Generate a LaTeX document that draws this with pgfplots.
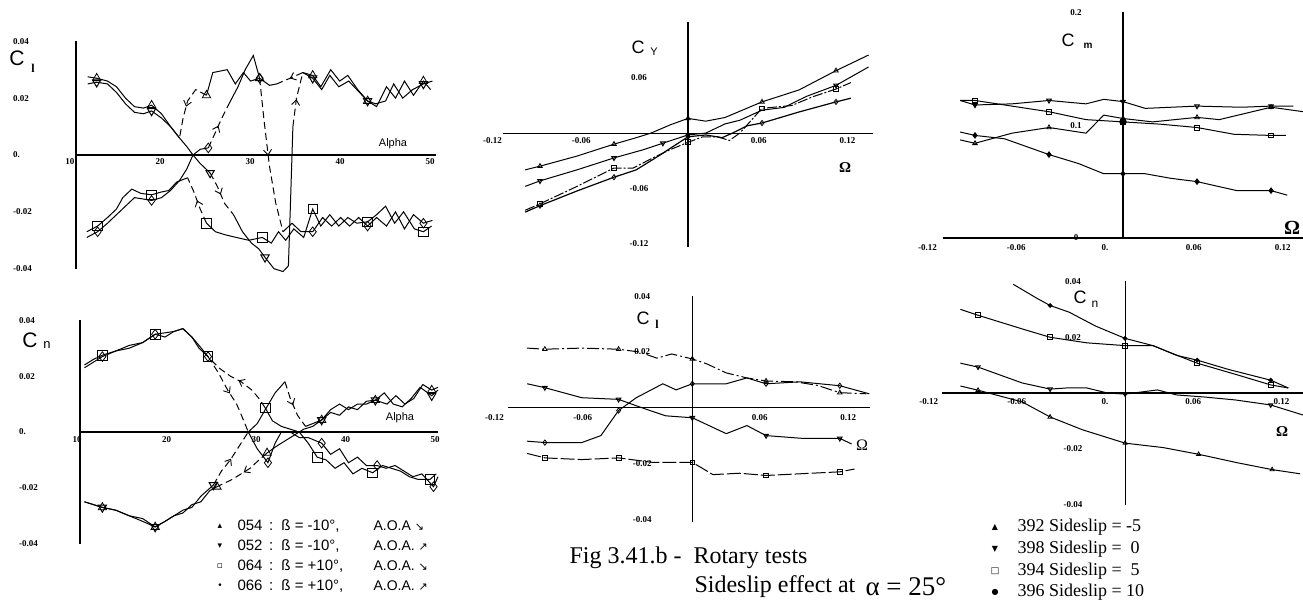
\documentclass[border=0pt]{standalone}
\usepackage{fontspec}
\setmainfont{Liberation Serif}
\setsansfont{Liberation Sans}
\newfontfamily\symf{DejaVu Sans}
\usepackage{pgfplots}
\pgfplotsset{compat=1.18}
\usetikzlibrary{decorations.markings,arrows.meta}

\pgfplotsset{
  panel/.style={scale only axis, anchor=south west, enlargelimits=false, clip=false,
    major tick length=0pt, scaled ticks=false,
    axis line style={-, line width=1.1pt},
    every inner x axis line/.append style={-}, every inner y axis line/.append style={-},
    every outer x axis line/.append style={-}, every outer y axis line/.append style={-},
    hide obscured x ticks=false, hide obscured y ticks=false,
    tick label style={font=\fontsize{9}{9}\selectfont\bfseries, inner sep=0pt},
    cycle list={{black,solid,no markers}},
    every axis plot/.append style={line width=1pt, black},
  },
  jump/.style={dash pattern=on 7pt off 4pt, postaction={decorate},
    decoration={markings, mark=at position 0.5 with {\arrow{Straight Barb[length=5pt,width=8pt,line width=0.9pt]}}}},
  mk/.style={only marks, mark size=#1, mark options={solid, line width=0.8pt, fill=none}},
}

\begin{document}
\begin{tikzpicture}
\path[use as bounding box] (0,0) rectangle (1303pt,601pt);

% ---------- Cl vs alpha ----------
\begin{axis}[axis x line=middle, axis y line=left, panel,
  at={(76pt,332pt)}, width=360pt, height=228pt,
  xmin=10, xmax=50, ymin=-0.0401, ymax=0.0401,
  xtick={10,20,30,40,50}, xticklabels={10,20,30,40,50},
  ytick={-0.04,-0.02,0,0.02,0.04}, yticklabels={-0.04,-0.02,0.,0.02,0.04},
  xticklabel style={anchor=center, xshift=-6pt, yshift=-7pt},
  yticklabel style={anchor=west, xshift=-63pt}]
% 054
\addplot coordinates {(11.3,0.0275)(12.3,0.027)(13.5,0.026)(14.5,0.024)(15.5,0.020)(16.5,0.017)(17.5,0.0165)(18.4,0.0175)(19.5,0.0145)(20.5,0.010)(21.5,0.006)};
\addplot[jump] coordinates {(24.5,0.021)(23.3,0.023)(22.4,0.019)(21.9,0.013)(21.5,0.006)};
\addplot coordinates {(24.5,0.021)(25.2,0.029)(26.8,0.030)(27.7,0.025)(28.6,0.029)(29.4,0.026)(30.4,0.027)(31.5,0.0245)(32.3,0.025)};
\addplot[jump] coordinates {(35.2,0.029)(33.8,0.027)(32.3,0.025)};
\addplot coordinates {(35.2,0.029)(36.3,0.028)(37.2,0.024)(38.3,0.030)(39.3,0.026)(40.2,0.028)(41.3,0.023)(42.4,0.019)(43.4,0.017)(44.5,0.024)(45.5,0.020)(46.5,0.026)(47.5,0.021)(48.6,0.026)(49.4,0.023)};
\addplot[mk=4.8pt, mark=triangle] coordinates {(12.3,0.027)(18.4,0.0175)(24.5,0.021)(30.4,0.027)(36.3,0.028)(42.4,0.019)(48.6,0.026)};
% 052
\addplot coordinates {(11.3,0.025)(12.3,0.0256)(13.5,0.025)(14.5,0.022)(15.5,0.018)(16.5,0.015)(17.5,0.0145)(18.4,0.0155)(19.5,0.013)(20.5,0.010)(21.5,0.006)(22.3,0.003)(23,0.0)(23.8,-0.003)(24.9,-0.0063)};
\addplot[jump] coordinates {(24.9,-0.0063)(25.7,-0.011)(26.5,-0.017)(27.5,-0.021)};
\addplot coordinates {(27.5,-0.021)(28.5,-0.027)(29.5,-0.031)(30.3,-0.033)(31,-0.036)(32,-0.040)(33,-0.041)(33.6,-0.039)(33.8,-0.020)(34.0,0.0)(34.1,0.010)};
\addplot[jump] coordinates {(34.1,0.010)(34.5,0.020)(35.2,0.029)};
\addplot coordinates {(35.2,0.029)(36.3,0.027)(37.3,0.023)(38.2,0.028)(39.2,0.024)(40.3,0.026)(41.5,0.022)(42.4,0.019)(43.3,0.018)(44.4,0.019)(45.3,0.025)(46.3,0.020)(47.4,0.023)(48.6,0.025)(49.6,0.026)};
\addplot[mk=4.8pt, mark=triangle, mark options={rotate=180}] coordinates {(12.3,0.0256)(18.4,0.0155)(24.9,-0.0063)(31,-0.036)(36.3,0.027)(42.4,0.019)(48.6,0.025)};
% 064
\addplot coordinates {(11.2,-0.027)(12.4,-0.025)(13.5,-0.022)(14.5,-0.019)(15.2,-0.015)(16.2,-0.012)(17.2,-0.0135)(18.4,-0.014)(19.5,-0.013)(20.3,-0.0125)(21.2,-0.0095)(22.4,-0.008)};
\addplot[jump] coordinates {(24.5,-0.024)(23.8,-0.019)(23.1,-0.013)(22.4,-0.008)};
\addplot coordinates {(24.5,-0.024)(25.5,-0.027)(26.5,-0.028)(27.8,-0.029)(29.2,-0.030)(30.7,-0.029)(31.7,-0.031)(32.5,-0.027)(33.3,-0.030)(34.2,-0.026)(35.3,-0.029)(36.3,-0.019)(37.2,-0.025)(38.2,-0.021)(39.2,-0.025)(40.2,-0.022)(41.2,-0.024)(42.4,-0.0235)(43.4,-0.021)(44.4,-0.018)(45.4,-0.024)(46.4,-0.020)(47.6,-0.026)(48.6,-0.027)(49.5,-0.025)};
\addplot[mk=4.8pt, mark=square] coordinates {(12.4,-0.025)(18.4,-0.014)(24.5,-0.024)(30.7,-0.029)(36.3,-0.019)(42.4,-0.0235)(48.6,-0.027)};
% 066
\addplot coordinates {(11.2,-0.029)(12.4,-0.027)(13.5,-0.024)(14.5,-0.021)(15.5,-0.018)(16.5,-0.015)(17.5,-0.0155)(18.4,-0.016)(19.5,-0.015)(20.5,-0.0125)(21.5,-0.009)(22.3,-0.005)(23,0.0)(23.8,0.002)(24.7,0.0025)};
\addplot[jump] coordinates {(24.7,0.0025)(25.5,0.008)(26.2,0.013)(27,0.018)};
\addplot coordinates {(27,0.018)(28,0.024)(28.8,0.030)(29.7,0.035)(30.4,0.027)};
\addplot[jump] coordinates {(30.4,0.027)(30.9,0.012)(31.5,-0.004)(32.2,-0.017)(33,-0.027)};
\addplot coordinates {(33,-0.027)(34,-0.024)(35,-0.027)(36.3,-0.027)(37.4,-0.022)(38.4,-0.025)(39.4,-0.022)(40.4,-0.025)(41.4,-0.022)(42.4,-0.025)(43.4,-0.022)(44.5,-0.025)(45.5,-0.020)(46.5,-0.026)(47.5,-0.021)(48.6,-0.024)(49.6,-0.023)};
\addplot[mk=4.8pt, mark=diamond] coordinates {(12.4,-0.027)(18.4,-0.016)(24.7,0.0025)(30.4,0.027)(36.3,-0.027)(42.4,-0.025)(48.6,-0.024)};
\end{axis}

% ---------- Cn vs alpha ----------
\begin{axis}[axis x line=middle, axis y line=left, panel,
  at={(80pt,57pt)}, width=358pt, height=224pt,
  xmin=10, xmax=50, ymin=-0.0401, ymax=0.0401,
  xtick={10,20,30,40,50}, xticklabels={10,20,30,40,50},
  ytick={-0.04,-0.02,0,0.02,0.04}, yticklabels={-0.04,-0.02,0.,0.02,0.04},
  xticklabel style={anchor=center, xshift=-3pt, yshift=-8pt},
  yticklabel style={anchor=west, xshift=-61pt}]
% 064
\addplot coordinates {(10.5,0.024)(11.5,0.026)(12.5,0.0275)(14,0.029)(15.5,0.030)(17,0.032)(18.4,0.035)(19.5,0.0355)(20.5,0.036)(21.5,0.037)(22.5,0.034)(23.3,0.031)(24.3,0.027)};
\addplot[jump] coordinates {(30.7,0.0086)(30,0.012)(29.2,0.015)(28,0.018)(26.8,0.020)(25.5,0.023)(24.3,0.027)};
\addplot coordinates {(30.7,0.0086)(31.5,0.004)(32.5,0.002)(33.5,0.001)(34.5,0.0)(35.5,-0.004)(36.5,-0.009)(37.5,-0.010)(38.5,-0.013)(39.5,-0.011)(40.5,-0.015)(41.5,-0.013)(42.7,-0.0146)(43.8,-0.012)(44.8,-0.013)(45.8,-0.014)(46.8,-0.016)(47.8,-0.017)(49.1,-0.017)(49.8,-0.015)};
\addplot[mk=4.8pt, mark=square] coordinates {(12.5,0.0275)(18.4,0.035)(24.3,0.027)(30.7,0.0086)(36.5,-0.009)(42.7,-0.0146)(49.1,-0.017)};
% 066
\addplot coordinates {(10.5,0.023)(11.5,0.025)(12.5,0.027)(14,0.029)(15.5,0.031)(17,0.032)(18.4,0.035)(19.5,0.034)(20.5,0.036)(21.5,0.037)(22.5,0.034)(23.3,0.030)(24.3,0.027)};
\addplot[jump] coordinates {(24.3,0.027)(25.5,0.021)(26.5,0.015)(27.5,0.010)(28.3,0.004)(28.8,0)};
\addplot coordinates {(28.8,0)(29.8,-0.006)(31,-0.011)(31.8,-0.004)(32.5,0.0)(33.5,0.000)(34.5,-0.002)(35.5,-0.002)(37,-0.004)(38,-0.008)(39,-0.006)(40,-0.011)(41,-0.009)(42,-0.012)(43.2,-0.012)(44.2,-0.013)(45.2,-0.012)(46.2,-0.014)(47.2,-0.016)(48.2,-0.015)(49.5,-0.0196)(50,-0.016)};
\addplot[mk=4.8pt, mark=diamond] coordinates {(12.5,0.027)(18.4,0.035)(24.3,0.027)(31,-0.011)(37,-0.004)(43.2,-0.012)(49.5,-0.0196)};
% 052
\addplot coordinates {(10.5,-0.025)(11.5,-0.026)(12.5,-0.027)(14,-0.028)(15.5,-0.030)(17,-0.032)(18.4,-0.034)(19.5,-0.032)(20.5,-0.030)(21.5,-0.028)(22.5,-0.027)(23.5,-0.023)(24.9,-0.019)};
\addplot[jump] coordinates {(24.9,-0.019)(25.8,-0.014)(26.8,-0.010)(27.8,-0.005)(28.8,0)};
\addplot coordinates {(28.8,0)(29.8,0.003)(30.7,0.008)(31.8,0.014)(32.9,0.018)};
\addplot[jump] coordinates {(32.9,0.018)(33.5,0.012)(34.3,0.006)(35.2,0.002)};
\addplot coordinates {(35.2,0.002)(36,0.003)(37,0.0043)(38,0.008)(39,0.010)(40,0.008)(41,0.010)(42,0.010)(43,0.0114)(44,0.014)(45,0.010)(46,0.009)(47,0.012)(48,0.016)(49.3,0.013)(50,0.015)};
\addplot[mk=4.8pt, mark=triangle, mark options={rotate=180}] coordinates {(12.5,-0.027)(18.4,-0.034)(24.9,-0.019)(37,0.0043)(43,0.0114)(49.3,0.013)};
% 054
\addplot coordinates {(50,0.016)(49.3,0.015)(48.3,0.017)(47.3,0.012)(46.3,0.010)(45.3,0.013)(44.3,0.010)(43,0.0114)(42,0.011)(41,0.008)(40,0.009)(39,0.006)(38,0.007)(37,0.0043)(36,0.002)(35,0.001)(34,-0.001)(33,-0.003)(32,-0.005)(30.9,-0.0075)};
\addplot[jump] coordinates {(30.9,-0.0075)(30,-0.010)(29,-0.013)(28,-0.015)(27,-0.017)(25.3,-0.0196)};
\addplot coordinates {(25.3,-0.0196)(24.5,-0.021)(23.5,-0.025)(22.5,-0.026)(21.5,-0.029)(20.5,-0.030)(19.5,-0.032)(18.4,-0.034)(17,-0.031)(15.5,-0.030)(14,-0.028)(12.5,-0.027)(11.5,-0.026)(10.5,-0.025)};
\addplot[mk=4.8pt, mark=triangle] coordinates {(49.3,0.015)(43,0.0114)(37,0.0043)(30.9,-0.0075)(25.3,-0.0196)(18.4,-0.034)(12.5,-0.027)};
\end{axis}

% ---------- CY vs Omega ----------
\begin{axis}[axis lines=middle, panel,
  at={(503pt,354pt)}, width=370pt, height=225pt,
  xmin=-0.125, xmax=0.125, ymin=-0.124, ymax=0.121,
  xtick={-0.12,-0.06,0.06,0.12}, xticklabels={-0.12,-0.06,0.06,0.12},
  ytick={-0.12,-0.06,0.06}, yticklabels={-0.12,-0.06,0.06},
  xticklabel style={anchor=center, xshift=-18pt, yshift=-7pt},
  yticklabel style={anchor=center, xshift=-49pt}]
\addplot coordinates {(-0.11,-0.040)(-0.1,-0.036)(-0.075,-0.025)(-0.05,-0.012)(-0.035,-0.005)(-0.025,0.0)(-0.012,0.009)(0,0.016)(0.012,0.013)(0.025,0.017)(0.05,0.034)(0.075,0.047)(0.1,0.068)(0.122,0.085)};
\addplot[mk=2.6pt, mark=triangle] coordinates {(-0.1,-0.036)(-0.05,-0.012)(0,0.016)(0.05,0.034)(0.1,0.068)};
\addplot coordinates {(-0.11,-0.058)(-0.1,-0.052)(-0.075,-0.040)(-0.05,-0.027)(-0.03,-0.018)(-0.017,-0.011)(0,-0.002)(0.012,0.0)(0.025,0.010)(0.035,0.014)(0.05,0.025)(0.065,0.028)(0.08,0.040)(0.1,0.052)(0.122,0.072)};
\addplot[mk=2.6pt, mark=triangle, mark options={rotate=180}] coordinates {(-0.1,-0.052)(-0.05,-0.027)(-0.017,-0.011)(0,-0.002)(0.1,0.052)};
\addplot[dash pattern=on 10pt off 2pt on 2pt off 2pt] coordinates {(-0.11,-0.084)(-0.1,-0.077)(-0.075,-0.058)(-0.05,-0.038)(-0.037,-0.038)(-0.025,-0.028)(-0.012,-0.018)(0,-0.010)(0.01,-0.004)(0.02,-0.004)(0.028,-0.008)(0.035,0.0)(0.05,0.027)(0.07,0.030)(0.085,0.040)(0.1,0.048)(0.11,0.055)};
\addplot[mk=2.4pt, mark=square] coordinates {(-0.1,-0.077)(-0.05,-0.038)(0,-0.010)(0.05,0.027)(0.1,0.048)};
\addplot[line width=1.2pt] coordinates {(-0.11,-0.086)(-0.1,-0.079)(-0.075,-0.063)(-0.05,-0.048)(-0.035,-0.040)(-0.02,-0.025)(0,-0.004)(0.012,-0.002)(0.023,-0.005)(0.03,0.0)(0.04,0.008)(0.05,0.011)(0.075,0.023)(0.1,0.034)(0.11,0.038)};
\addplot[mk=2.6pt, mark=diamond] coordinates {(-0.1,-0.079)(-0.05,-0.048)(0,-0.004)(0.05,0.011)(0.1,0.034)};
\end{axis}

% ---------- Cl vs Omega ----------
\begin{axis}[axis lines=middle, panel,
  at={(508pt,79pt)}, width=362pt, height=226pt,
  xmin=-0.125, xmax=0.1205, ymin=-0.041, ymax=0.0401,
  xtick={-0.12,-0.06,0.06,0.12}, xticklabels={-0.12,-0.06,0.06,0.12},
  ytick={-0.04,-0.02,0.02,0.04}, yticklabels={-0.04,-0.02,0.02,0.04},
  xticklabel style={anchor=center, xshift=-21pt, yshift=-10pt},
  yticklabel style={anchor=center, xshift=-50pt}]
\addplot[dash pattern=on 12pt off 3pt on 2pt off 3pt] coordinates {(-0.112,0.0214)(-0.1,0.021)(-0.075,0.0214)(-0.05,0.021)(-0.036,0.020)(-0.024,0.0178)(-0.014,0.0193)(0,0.0175)(0.01,0.0157)(0.023,0.0125)(0.037,0.0107)(0.05,0.0096)(0.07,0.0093)(0.085,0.008)(0.1,0.0054)(0.118,0.005)};
\addplot[mk=2.6pt, mark=triangle] coordinates {(-0.1,0.021)(-0.05,0.021)(0,0.0175)(0.05,0.0096)(0.1,0.0054)};
\addplot coordinates {(-0.112,0.0086)(-0.1,0.0072)(-0.075,0.0036)(-0.05,0.003)(-0.038,0.0007)(-0.026,-0.0015)(-0.018,-0.0029)(0,-0.0036)(0.023,-0.0093)(0.037,-0.0064)(0.05,-0.010)(0.075,-0.011)(0.1,-0.011)(0.108,-0.013)};
\addplot[mk=2.6pt, mark=triangle, mark options={rotate=180}] coordinates {(-0.1,0.0072)(-0.05,0.003)(0,-0.0036)(0.05,-0.010)(0.1,-0.011)};
\addplot[dash pattern=on 14pt off 3pt] coordinates {(-0.112,-0.0164)(-0.1,-0.018)(-0.075,-0.0186)(-0.05,-0.018)(-0.027,-0.0196)(0,-0.0196)(0.014,-0.024)(0.032,-0.0235)(0.05,-0.0243)(0.077,-0.0236)(0.1,-0.023)(0.11,-0.022)};
\addplot[mk=2.4pt, mark=square] coordinates {(-0.1,-0.018)(-0.05,-0.018)(0,-0.0196)(0.05,-0.0243)(0.1,-0.023)};
\addplot coordinates {(-0.112,-0.012)(-0.1,-0.0125)(-0.075,-0.0125)(-0.062,-0.010)(-0.05,-0.001)(-0.038,0.0036)(-0.02,0.0086)(-0.011,0.0064)(0,0.0086)(0.023,0.0086)(0.037,0.0107)(0.05,0.0086)(0.073,0.0093)(0.1,0.0079)(0.12,0.005)};
\addplot[mk=2.6pt, mark=diamond] coordinates {(-0.1,-0.0125)(-0.05,-0.001)(0,0.0086)(0.05,0.0086)(0.1,0.0079)};
\end{axis}

% ---------- Cm vs Omega ----------
\begin{axis}[axis lines=middle, panel,
  at={(943pt,363pt)}, width=360pt, height=226pt,
  xmin=-0.1216, xmax=0.1216, ymin=0, ymax=0.2005,
  xtick={-0.12,-0.06,0,0.06,0.12}, xticklabels={-0.12,-0.06,0.,0.06,0.12},
  ytick={0,0.1,0.2}, yticklabels={0,0.1,0.2},
  xticklabel style={anchor=center, xshift=-18pt, yshift=-10pt},
  yticklabel style={anchor=center, xshift=-47pt}]
\addplot coordinates {(-0.11,0.122)(-0.1,0.118)(-0.075,0.119)(-0.05,0.122)(-0.025,0.119)(-0.013,0.123)(0,0.121)(0.015,0.115)(0.05,0.117)(0.08,0.116)(0.1,0.117)(0.115,0.117)};
\addplot[only marks, mark=triangle*, mark size=2.6pt, mark options={rotate=180, fill=black}] coordinates {(-0.1,0.118)};
\addplot[mk=2.6pt, mark=triangle, mark options={rotate=180}] coordinates {(-0.05,0.122)(0,0.121)(0.05,0.117)(0.1,0.117)};
\addplot coordinates {(-0.11,0.087)(-0.1,0.084)(-0.075,0.093)(-0.05,0.098)(-0.025,0.093)(-0.013,0.109)(0,0.106)(0.02,0.103)(0.05,0.107)(0.065,0.105)(0.1,0.116)(0.122,0.112)};
\addplot[mk=2.6pt, mark=triangle] coordinates {(-0.1,0.084)(-0.05,0.098)(0,0.106)(0.05,0.107)(0.1,0.116)};
\addplot coordinates {(-0.11,0.122)(-0.1,0.122)(-0.075,0.117)(-0.05,0.112)(-0.025,0.105)(0,0.103)(0.025,0.101)(0.05,0.098)(0.075,0.092)(0.1,0.091)(0.11,0.091)};
\addplot[mk=2.4pt, mark=square] coordinates {(-0.1,0.122)(-0.05,0.112)(0,0.103)(0.05,0.098)(0.1,0.091)};
\addplot coordinates {(-0.11,0.094)(-0.1,0.091)(-0.08,0.088)(-0.05,0.074)(-0.03,0.066)(-0.013,0.057)(0,0.057)(0.015,0.057)(0.032,0.053)(0.05,0.050)(0.077,0.042)(0.1,0.042)(0.111,0.038)};
\addplot[only marks, mark=diamond*, mark size=2.6pt, mark options={fill=black}] coordinates {(-0.1,0.091)(-0.05,0.074)(0,0.057)(0.05,0.050)(0.1,0.042)};
\addplot[only marks, mark=*, mark size=3.2pt, mark options={fill=black}] coordinates {(0,0.103)};
\end{axis}

% ---------- Cn vs Omega ----------
\begin{axis}[axis lines=middle, panel,
  at={(942pt,96pt)}, width=361pt, height=224pt,
  xmin=-0.1245, xmax=0.121, ymin=-0.0402, ymax=0.0402,
  xtick={-0.12,-0.06,0,0.06,0.12}, xticklabels={-0.12,-0.06,0.,0.06,0.12},
  ytick={-0.04,-0.02,0.02,0.04}, yticklabels={-0.04,-0.02,0.02,0.04},
  xticklabel style={anchor=center, xshift=-20pt, yshift=-9pt},
  yticklabel style={anchor=center, xshift=-52pt}]
\addplot coordinates {(-0.076,0.039)(-0.06,0.034)(-0.051,0.0314)(-0.038,0.029)(-0.02,0.024)(0,0.0196)(0.019,0.017)(0.035,0.0135)(0.049,0.0118)(0.07,0.0085)(0.099,0.0046)(0.111,0.0018)};
\addplot[only marks, mark=*, mark size=1.8pt] coordinates {(-0.051,0.0314)(0,0.0196)(0.049,0.0118)(0.099,0.0046)};
\addplot coordinates {(-0.112,0.030)(-0.1,0.0279)(-0.07,0.023)(-0.051,0.020)(-0.026,0.018)(0,0.017)(0.019,0.017)(0.035,0.0136)(0.049,0.0107)(0.077,0.0064)(0.099,0.0029)(0.111,0.0018)};
\addplot[mk=2.4pt, mark=square] coordinates {(-0.1,0.0279)(-0.051,0.020)(0,0.017)(0.049,0.0107)(0.099,0.0029)};
\addplot coordinates {(-0.112,0.0107)(-0.1,0.0093)(-0.07,0.0036)(-0.051,0.0014)(-0.04,0.0018)(-0.026,0.0018)(-0.012,0.0)(0,-0.0004)(0.022,0.0011)(0.035,-0.0007)(0.053,-0.0014)(0.075,-0.0025)(0.099,-0.0043)(0.121,-0.0079)};
\addplot[mk=2.4pt, mark=triangle, mark options={rotate=180}] coordinates {(-0.1,0.0093)(-0.051,0.0014)(0,-0.0004)(0.099,-0.0043)};
\addplot coordinates {(-0.112,0.0025)(-0.1,0.001)(-0.07,-0.0032)(-0.051,-0.0086)(-0.029,-0.0132)(0,-0.018)(0.026,-0.0196)(0.05,-0.022)(0.076,-0.025)(0.1,-0.0275)(0.119,-0.029)};
\addplot[mk=2.4pt, mark=triangle] coordinates {(-0.1,0.001)(-0.051,-0.0086)(0,-0.018)(0.05,-0.022)(0.1,-0.0275)};
\end{axis}

% ---------- texts, in pixel coordinates ----------
\begin{scope}[shift={(0pt,601pt)}, x=1pt, y=-1pt]
\node[font=\sffamily\fontsize{21}{21}\selectfont] at (17,58) {C};
\node[font=\bfseries\fontsize{12}{12}\selectfont] at (33,68) {l};
\node[font=\sffamily\fontsize{11}{11}\selectfont] at (393,144) {Alpha};
\node[font=\sffamily\fontsize{21}{21}\selectfont] at (30,340) {C};
\node[font=\sffamily\fontsize{13}{13}\selectfont] at (47,345) {n};
\node[font=\sffamily\fontsize{11}{11}\selectfont] at (400,418) {Alpha};
\node[font=\sffamily\fontsize{18}{18}\selectfont] at (638,47) {C};
\node[font=\sffamily\fontsize{11}{11}\selectfont] at (654,52) {Y};
\node[font=\bfseries\fontsize{15}{15}\selectfont] at (845,168) {Ω};
\node[font=\sffamily\fontsize{18}{18}\selectfont] at (643,318) {C};
\node[font=\bfseries\fontsize{12}{12}\selectfont] at (657,324) {l};
\node[font=\fontsize{16}{16}\selectfont] at (862,445) {Ω};
\node[font=\sffamily\fontsize{18}{18}\selectfont] at (1068,40) {C};
\node[font=\sffamily\bfseries\fontsize{10}{10}\selectfont] at (1088,46) {m};
\node[font=\bfseries\fontsize{20}{20}\selectfont] at (1292,228) {Ω};
\node[font=\sffamily\fontsize{18}{18}\selectfont] at (1080,297) {C};
\node[font=\sffamily\fontsize{12}{12}\selectfont] at (1095,304) {n};
\node[font=\bfseries\fontsize{15}{15}\selectfont] at (1282,432) {Ω};
% left legend
\node[font=\symf\fontsize{9}{9}\selectfont] at (220,526) {▴};
\node[font=\symf\fontsize{9}{9}\selectfont] at (220,546) {▾};
\node[font=\symf\fontsize{9}{9}\selectfont] at (220,566) {▫};
\node[font=\symf\fontsize{9}{9}\selectfont] at (220,586) {•};
\node[anchor=west, font=\sffamily\fontsize{15}{15}\selectfont] at (234,526) {054 \,:\, ß = -10°,};
\node[anchor=west, font=\sffamily\fontsize{15}{15}\selectfont] at (234,546) {052 \,:\, ß = -10°,};
\node[anchor=west, font=\sffamily\fontsize{15}{15}\selectfont] at (234,566) {064 \,:\, ß = +10°,};
\node[anchor=west, font=\sffamily\fontsize{15}{15}\selectfont] at (234,586) {066 \,:\, ß = +10°,};
\node[anchor=west, font=\sffamily\fontsize{14}{14}\selectfont] at (370,526) {A.O.A {\symf\fontsize{11}{11}\selectfont ↘}};
\node[anchor=west, font=\sffamily\fontsize{14}{14}\selectfont] at (370,546) {A.O.A. {\symf\fontsize{11}{11}\selectfont ↗}};
\node[anchor=west, font=\sffamily\fontsize{14}{14}\selectfont] at (370,566) {A.O.A. {\symf\fontsize{11}{11}\selectfont ↘}};
\node[anchor=west, font=\sffamily\fontsize{14}{14}\selectfont] at (370,586) {A.O.A. {\symf\fontsize{11}{11}\selectfont ↗}};
% caption
\node[anchor=west, font=\fontsize{24}{24}\selectfont] at (566,558) {Fig 3.41.b -\ \ Rotary tests};
\node[anchor=west, font=\fontsize{24}{24}\selectfont] at (691,587) {Sideslip effect at};
\node[anchor=west, font=\fontsize{27}{27}\selectfont] at (862,587) {α = 25°};
% right legend
\node[font=\symf\fontsize{8}{8}\selectfont] at (995,527) {▲};
\node[font=\symf\fontsize{8}{8}\selectfont] at (995,549) {▼};
\node[font=\symf\fontsize{9}{9}\selectfont] at (995,571) {□};
\node[font=\symf\fontsize{8}{8}\selectfont] at (995,592) {●};
\node[anchor=west, font=\fontsize{18}{18}\selectfont] at (1014,527) {392 Sideslip = -5};
\node[anchor=west, font=\fontsize{18}{18}\selectfont] at (1014,549) {398 Sideslip = \ 0};
\node[anchor=west, font=\fontsize{18}{18}\selectfont] at (1014,571) {394 Sideslip = \ 5};
\node[anchor=west, font=\fontsize{18}{18}\selectfont] at (1014,592) {396 Sideslip = 10};
\end{scope}
\end{tikzpicture}
\end{document}
